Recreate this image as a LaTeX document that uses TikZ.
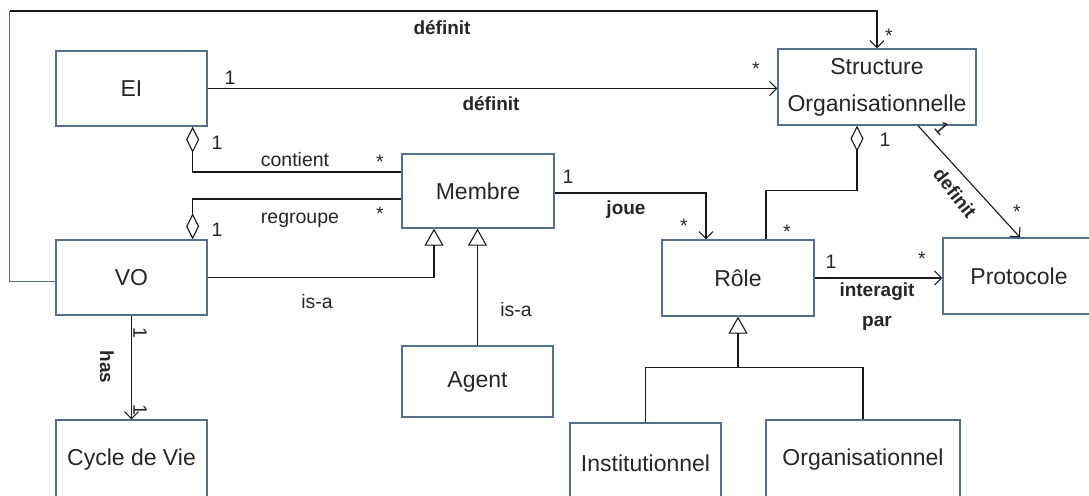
\documentclass[tikz,border=0pt]{standalone}
\usepackage{fontspec}
\setmainfont{Liberation Sans}
\usepackage{tikz}
\usetikzlibrary{calc,arrows.meta}

\definecolor{bordure}{RGB}{84,112,142}

\begin{document}
\begin{tikzpicture}[x=0.5pt,y=-0.5pt,
	classe/.style={draw=bordure,line width=0.65pt,minimum width=75.5pt,minimum height=37.5pt,inner sep=0pt,text=black!85,font=\fontsize{11.5}{13}\selectfont},
	lien/.style={black!90,line width=0.55pt},
	fleche/.style={lien,-{Straight Barb[length=3.5pt,width=7pt]}},
	agreg/.style={lien,{Diamond[open,length=13pt,width=6.5pt]}-},
	herite/.style={lien,-{Triangle[open,length=8.5pt,width=9.5pt]}},
	etiq/.style={inner sep=0pt,text=black!85,font=\fontsize{9.75}{11}\selectfont},
	verbe/.style={etiq,font=\bfseries\fontsize{9.5}{11}\selectfont}]
				\useasboundingbox (0,0) rectangle (1089,495);
				\clip (0,0) rectangle (1089,495);
				% classes
				\node[classe] (ei) at (131.5,88.5) {EI};
				\node[classe] (vo) at (131.5,277.5) {VO};
				\node[classe,minimum height=40pt] (cycle) at (131.5,460) {Cycle de Vie};
				\node[classe,minimum width=76pt,minimum height=37pt] (membre) at (478,191) {Membre};
				\node[classe,minimum width=75.5pt,minimum height=35.5pt] (agent) at (477.5,381.5) {Agent};
				\node[classe,minimum width=99pt,minimum height=38pt,align=center,font=\fontsize{11.5}{18.5}\selectfont] (so) at (877,87) {Structure\\Organisationnelle};
				\node[classe,minimum width=76pt,minimum height=38pt] (role) at (738,278) {Rôle};
				\node[classe,minimum width=76pt,minimum height=38pt] (proto) at (1019,276) {Protocole};
				\node[classe,minimum height=40pt] (inst) at (645.5,463) {Institutionnel};
				\node[classe,minimum width=97pt,minimum height=40pt] (org) at (863,460) {Organisationnel};
				% VO definit SO, par le haut
				\coordinate (coin) at (9.5,11);
				\draw[lien,draw=bordure] ($(vo.west)+(0,4)$) -| (coin);
				\draw[fleche] (coin) -| (so.north);
				\node[verbe] (d1) at (442,28) {définit};
				\node[etiq] (d1b) at (889,36) {*};
				% EI definit SO
				\draw[fleche] (ei.east) -- (ei.east -| so.west);
				\node[etiq] (d2a) at (230,78) {1};
				\node[etiq] (d2b) at (756,69) {*};
				\node[verbe] (d2) at (491,104) {définit};
				% agregations vers Membre
				\draw[agreg] ($(ei.south east)+(-15,0)$) |- ($(membre.west)+(0,-19)$);
				\node[etiq] (c1) at (217,143) {1};
				\node[etiq] (c) at (295,160) {contient};
				\node[etiq] (c2) at (380,162) {*};
				\draw[agreg] ($(vo.north east)+(-15,0)$) |- ($(membre.west)+(0,8)$);
				\node[etiq] (r1) at (217,230) {1};
				\node[etiq] (r) at (300,220) {regroupe};
				\node[etiq] (r2) at (380,214) {*};
				% is-a
				\draw[herite] (vo.east) -| ($(membre.south)+(-44,0)$);
				\draw[herite] (agent.north) -- (agent.north |- membre.south);
				\node[etiq] (isa1) at (317,302) {is-a};
				\node[etiq] (isa2) at (516,310) {is-a};
				% has
				\draw[fleche] (vo.south) -- (cycle.north);
				\node[etiq,rotate=-90] (h1) at (140,333) {1};
				\node[verbe,rotate=-90] (h) at (107,367) {has};
				\node[etiq,rotate=-90] (h2) at (140,410) {1};
				% joue
				\draw[fleche] ($(membre.east)+(0,2)$) -| ($(role.north)+(-32,0)$);
				\node[etiq] (j1) at (568,177) {1};
				\node[verbe] (j) at (626,210) {joue};
				\node[etiq] (j2) at (684,226) {*};
				% Role dans SO
				\draw[agreg] ($(so.south)+(-20,0)$) -- ++(0,65) -| ($(role.north)+(28,0)$);
				\node[etiq] (s1) at (885,140) {1};
				\node[etiq] (s2) at (787,232) {*};
				% SO definit Protocole
				\draw[fleche] ($(so.south)+(41,0)$) -- ($(proto.north)+(1,0)$);
				\node[etiq,rotate=-50] (p1) at (942,128) {1};
				\node[verbe,rotate=-52] (p) at (955,193) {definit};
				\node[etiq] (p2) at (1017,212) {*};
				% interagit par
				\draw[fleche] (role.east) -- (role.east -| proto.west);
				\node[etiq] (i1) at (831,262) {1};
				\node[etiq] (i2) at (922,259) {*};
				\node[verbe] (i) at (877,292) {interagit};
				\node[verbe] (ip) at (877,323) {par};
				% specialisations de Role
				\coordinate (fourche) at ($(role.south)+(0,51)$);
				\draw[lien] (inst.north) |- (fourche);
				\draw[lien] (org.north) |- (fourche);
				\draw[herite] (fourche) -- (role.south);
			\end{tikzpicture}
\end{document}
